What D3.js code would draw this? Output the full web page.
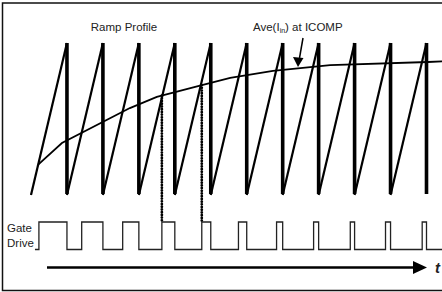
<!DOCTYPE html>
<html lang="en">
<head>
<meta charset="UTF-8">
<title>Ramp Profile / Gate Drive</title>
<script src="https://d3js.org/d3.v7.min.js"></script>
<style>
  body { margin: 0; overflow: hidden; background: #fff; }
  text { font-family: "Liberation Sans", Arial, sans-serif; fill: #222; }
</style>
</head>
<body>
<div id="chart"></div>
<script>
  // ramp cycles (time in switching periods)
  const rampStart = [0, 1, 2, 3, 4, 5, 6, 7, 8, 9, 10];
  const rampEnd   = [1, 2, 3, 4, 5, 6, 7, 8, 9, 10, 11];

  // gate turns on where ramp crosses Ave(Iin), off at ramp reset
  const gateOn  = [0.22, 1.41, 2.55, 3.64, 4.75, 5.77, 6.83, 7.86, 8.88, 9.86, 10.88];
  const gateOff = [1, 2, 3, 4, 5, 6, 7, 8, 9, 10, 11];

  // Ave(Iin) at ICOMP (fraction of ramp height)
  const aveT     = [0.2, 0.86, 2.75, 3.5, 4.7, 5.54, 6.73, 8.32, 11.04, 11.5];
  const aveLevel = [0.2, 0.342, 0.572, 0.645, 0.72, 0.77, 0.816, 0.855, 0.875, 0.88];

  // cycles with the dotted marker
  const marked = [3, 4];

  const width = 442, height = 292;

  const svg = d3.select("#chart").append("svg")
      .attr("width", width)
      .attr("height", height);

  const x = d3.scaleLinear().domain([0, 11]).range([31, 426.5]);
  const y = d3.scaleLinear().domain([0, 1]).range([195, 43]);
  const gy = d3.scaleLinear().domain([0, 1]).range([249.5, 222]);

  // frame (right edge is cut off in the original)
  svg.append("path")
      .attr("d", `M${width + 5},3 H2.5 V290.5 H${width + 5}`)
      .attr("fill", "none")
      .attr("stroke", "#111")
      .attr("stroke-width", 1.5);

  // rising ramps
  svg.append("g").selectAll("line")
      .data(rampStart)
      .enter().append("line")
      .attr("x1", d => x(d))
      .attr("y1", y(0))
      .attr("x2", (d, i) => x(rampEnd[i]))
      .attr("y2", y(1))
      .attr("stroke", "#000")
      .attr("stroke-width", 2.2);

  // resets (vertical drops)
  svg.append("g").selectAll("line")
      .data(rampEnd)
      .enter().append("line")
      .attr("x1", d => x(d))
      .attr("x2", d => x(d))
      .attr("y1", y(1))
      .attr("y2", y(0) - 1)
      .attr("stroke", "#000")
      .attr("stroke-width", 3.6);

  // Ave(Iin) curve
  const avePts = aveT.map((t, i) => [t, aveLevel[i]]);
  svg.append("path")
      .datum(avePts)
      .attr("d", d3.line().x(d => x(d[0])).y(d => y(d[1])))
      .attr("fill", "none")
      .attr("stroke", "#000")
      .attr("stroke-width", 1.8);

  const aveAt = t => {
    const i = d3.bisectRight(aveT, t) - 1;
    const f = (t - aveT[i]) / (aveT[i + 1] - aveT[i]);
    return aveLevel[i] + f * (aveLevel[i + 1] - aveLevel[i]);
  };

  // dotted markers from ramp crossing down to gate drive
  svg.append("g").selectAll("line")
      .data(marked)
      .enter().append("line")
      .attr("x1", d => x(gateOn[d]))
      .attr("x2", d => x(gateOn[d]))
      .attr("y1", d => y(aveAt(gateOn[d])))
      .attr("y2", gy(1))
      .attr("stroke", "#000")
      .attr("stroke-width", 2.8)
      .attr("stroke-linecap", "round")
      .attr("stroke-dasharray", "0.01,2.7");

  // gate drive waveform
  let gd = `M${x(0.11)},${gy(0)}`;
  gateOn.forEach((t, i) => {
    gd += ` H${x(t)} V${gy(1)} H${x(gateOff[i])} V${gy(0)}`;
  });
  gd += ` H${width}`;
  svg.append("path")
      .attr("d", gd)
      .attr("fill", "none")
      .attr("stroke", "#222")
      .attr("stroke-width", 1.3);

  // labels
  svg.append("text")
      .attr("x", 124).attr("y", 30.5)
      .attr("text-anchor", "middle")
      .style("font-size", "11.5px")
      .text("Ramp Profile");

  const ave = svg.append("text")
      .attr("x", 253).attr("y", 30.5)
      .style("font-size", "11.5px");
  ave.append("tspan").text("Ave(I");
  ave.append("tspan").attr("dy", 2).style("font-size", "7px").text("in");
  ave.append("tspan").attr("dy", -2).text(") at ICOMP");

  // pointer arrow to the curve
  svg.append("line")
      .attr("x1", 303).attr("y1", 38)
      .attr("x2", 299.5).attr("y2", 58)
      .attr("stroke", "#000")
      .attr("stroke-width", 1.5);
  svg.append("path")
      .attr("d", "M293,57 L298,67 L303.5,58 Z")
      .attr("fill", "#000");

  svg.append("text")
      .attr("x", 7).attr("y", 232)
      .style("font-size", "11.5px")
      .text("Gate");
  svg.append("text")
      .attr("x", 7).attr("y", 246.5)
      .style("font-size", "11.5px")
      .text("Drive");

  // time axis arrow
  svg.append("line")
      .attr("x1", 47).attr("y1", 267.5)
      .attr("x2", 416).attr("y2", 267.5)
      .attr("stroke", "#000")
      .attr("stroke-width", 2.6);
  svg.append("path")
      .attr("d", "M413,261 L427,267.5 L413,274 Z")
      .attr("fill", "#000");
  svg.append("text")
      .attr("x", 435).attr("y", 272.5)
      .style("font-size", "15px")
      .style("font-weight", "bold")
      .style("font-style", "italic")
      .text("t");
</script>
</body>
</html>
